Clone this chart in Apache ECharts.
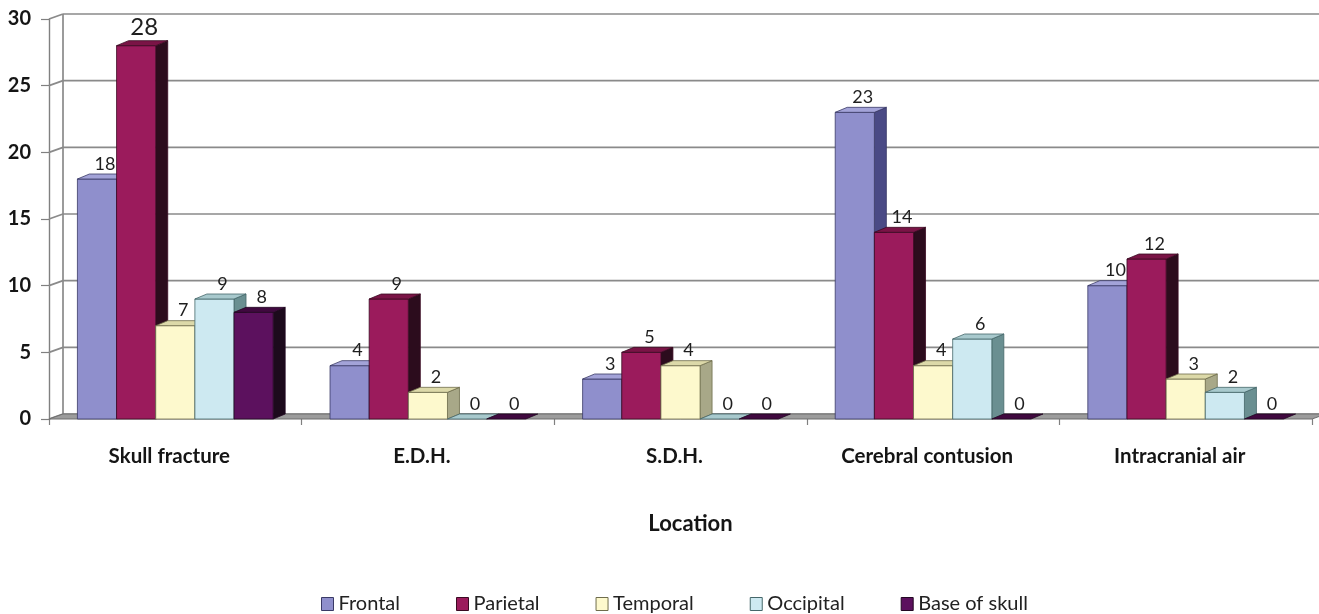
<!DOCTYPE html>
<html>
<head>
<meta charset="utf-8">
<script src="https://cdn.jsdelivr.net/npm/echarts@6/dist/echarts.min.js"></script>
<style>
  html, body { margin: 0; padding: 0; background: #ffffff; }
  #chart { width: 1319px; height: 614px; }
</style>
</head>
<body>
<div id="chart"></div>
<script>
// Lesion counts by location
const CATEGORIES = ['Skull fracture', 'E.D.H.', 'S.D.H.', 'Cerebral contusion', 'Intracranial air'];
const SERIES_NAMES = ['Frontal', 'Parietal', 'Temporal', 'Occipital', 'Base of skull'];
const FRONTAL = [18, 4, 3, 23, 10];
const PARIETAL = [28, 9, 5, 14, 12];
const TEMPORAL = [7, 2, 4, 4, 3];
const OCCIPITAL = [9, 0, 0, 6, 2];
const BASE_OF_SKULL = [8, 0, 0, 0, 0];
const Y_TICKS = [0, 5, 10, 15, 20, 25, 30];

const SERIES_VALUES = [FRONTAL, PARIETAL, TEMPORAL, OCCIPITAL, BASE_OF_SKULL];

// Face shading for each box: front, right side, top, outline
const PALETTE = [
  { front: '#8f8fcc', side: '#4a4a85', top: '#a3a3d8', edge: '#3a3a66' },
  { front: '#9b1b5c', side: '#2c0c1d', top: '#7a1446', edge: '#3a0a22' },
  { front: '#fdf9cd', side: '#a8a888', top: '#dcd9a9', edge: '#6f6d4c' },
  { front: '#cde9f1', side: '#6a8f91', top: '#a8c9cd', edge: '#45676a' },
  { front: '#5c115e', side: '#1c0a1c', top: '#40093f', edge: '#220822' }
];

const BAR_DEPTH = [12, -5];   // oblique offset of the bar tops/sides
const WALL_DEPTH = [14, -5];  // oblique offset of the back wall
const BAR_SHARE = 0.155;      // bar width as a share of a category band
const PEAK = Math.max(...SERIES_VALUES.flat());
const FONT = 'Lato, "Open Sans", sans-serif';

// Back wall grid lines, left wall slants and the floor
function renderFrame(params, api) {
  const v = api.value(1);
  const cs = params.coordSys;
  const xL = cs.x, xR = cs.x + cs.width;
  const y = api.coord([0, v])[1];
  const [dx, dy] = WALL_DEPTH;
  const line = { stroke: '#8a8a8a', lineWidth: 1.7 };
  const children = [
    { type: 'line', shape: { x1: xL, y1: y, x2: xL + dx, y2: y + dy }, style: line },
    { type: 'line', shape: { x1: xL + dx, y1: y + dy, x2: xR + dx, y2: y + dy }, style: line }
  ];
  if (params.dataIndex === 0) {
    const yTop = api.coord([0, Y_TICKS[Y_TICKS.length - 1]])[1];
    children.push({
      type: 'line',
      shape: { x1: xL + dx, y1: y + dy, x2: xL + dx, y2: yTop + dy },
      style: line
    });
    children.push({
      type: 'polygon',
      shape: { points: [[xL, y], [xR, y], [xR + dx, y + dy], [xL + dx, y + dy]] },
      style: { fill: '#9c9c9c', stroke: '#6f6f6f', lineWidth: 1 }
    });
  }
  return { type: 'group', children };
}

// One oblique 3D box per data item
function barRenderer(si) {
  return function (params, api) {
    const cat = api.value(0);
    const v = api.value(1);
    const base = api.coord([cat, 0]);
    const top = api.coord([cat, v]);
    const band = api.size([1, 0])[0];
    const w = band * BAR_SHARE;
    const n = SERIES_VALUES.length;
    const x0 = base[0] - (n * w) / 2 + si * w;
    const x1 = x0 + w;
    const yb = base[1], yt = top[1];
    const [dx, dy] = BAR_DEPTH;
    const c = PALETTE[si];
    const edge = { stroke: c.edge, lineWidth: 0.8, lineJoin: 'round' };
    const children = [];
    if (yb - yt > 0.5) {
      children.push({
        type: 'polygon', z2: si * 3,
        shape: { points: [[x1, yb], [x1 + dx, yb + dy], [x1 + dx, yt + dy], [x1, yt]] },
        style: Object.assign({ fill: c.side }, edge)
      });
      children.push({
        type: 'polygon', z2: si * 3 + 1,
        shape: { points: [[x0, yb], [x1, yb], [x1, yt], [x0, yt]] },
        style: Object.assign({ fill: c.front }, edge)
      });
    }
    children.push({
      type: 'polygon', z2: si * 3 + 2,
      shape: { points: [[x0, yt], [x1, yt], [x1 + dx, yt + dy], [x0 + dx, yt + dy]] },
      style: Object.assign({ fill: c.top }, edge)
    });
    children.push({
      type: 'text', z2: 100,
      style: {
        text: String(v),
        x: (x0 + x1) / 2 + 8,
        y: yt + dy - 1,
        align: 'center',
        verticalAlign: 'bottom',
        fill: '#1e1e1e',
        fontFamily: FONT,
        fontSize: v === PEAK ? 24 : 18
      }
    });
    return { type: 'group', children };
  };
}

const chart = echarts.init(document.getElementById('chart'), null, { renderer: 'canvas' });

const barSeries = SERIES_NAMES.map((name, si) => ({
  name,
  type: 'custom',
  z: 2,
  renderItem: barRenderer(si),
  itemStyle: { color: PALETTE[si].front, borderColor: PALETTE[si].edge },
  data: SERIES_VALUES[si].map((v, ci) => [ci, v])
}));

chart.setOption({
  backgroundColor: '#ffffff',
  animation: false,
  grid: { left: 49, right: 7, top: 19, bottom: 195, containLabel: false, outerBoundsMode: 'none' },
  xAxis: {
    type: 'category',
    data: CATEGORIES,
    axisLine: { show: false },
    axisTick: { show: true, length: 6, interval: 0, lineStyle: { color: '#808080', width: 1.2 } },
    axisLabel: {
      interval: 0, margin: 27, padding: [0, 12, 0, 0],
      color: '#151515', fontFamily: FONT, fontWeight: 'bold', fontSize: 20.5
    },
    splitLine: { show: false },
    name: 'Location',
    nameLocation: 'middle',
    nameGap: 94,
    nameTextStyle: { color: '#151515', fontFamily: FONT, fontWeight: 'bold', fontSize: 22, padding: [0, 0, 0, 20] }
  },
  yAxis: {
    type: 'value',
    min: Y_TICKS[0],
    max: Y_TICKS[Y_TICKS.length - 1],
    interval: Y_TICKS[1] - Y_TICKS[0],
    axisLine: { show: true, lineStyle: { color: '#808080', width: 1.4 } },
    axisTick: { show: true, length: 8, lineStyle: { color: '#808080', width: 1.2 } },
    axisLabel: { margin: 18, color: '#151515', fontFamily: FONT, fontWeight: 'bold', fontSize: 20 },
    splitLine: { show: false }
  },
  legend: {
    left: 316,
    top: 589,
    icon: 'rect',
    itemWidth: 12,
    itemHeight: 13,
    itemGap: 56,
    itemTextGap: 8,
    textStyle: { color: '#222222', fontFamily: FONT, fontSize: 20 },
    data: SERIES_NAMES.map((name, i) => ({
      name,
      itemStyle: { color: PALETTE[i].front, borderColor: PALETTE[i].edge, borderWidth: 1 }
    }))
  },
  series: [
    {
      name: 'frame',
      type: 'custom',
      z: 1,
      silent: true,
      renderItem: renderFrame,
      data: Y_TICKS.map(v => [0, v])
    }
  ].concat(barSeries)
});
</script>
</body>
</html>
